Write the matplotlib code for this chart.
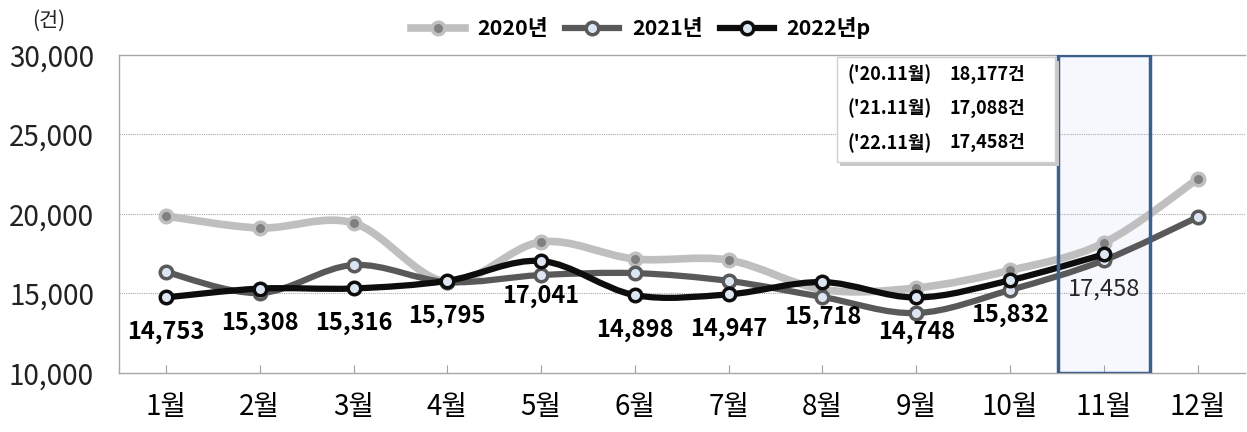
import matplotlib
matplotlib.use("Agg")
import matplotlib.pyplot as plt
from matplotlib.path import Path
from matplotlib.patches import PathPatch, Rectangle
from matplotlib.lines import Line2D
import numpy as np

plt.rcParams['font.family'] = ['Noto Sans CJK KR', 'DejaVu Sans']

months = ["1월", "2월", "3월", "4월", "5월", "6월", "7월", "8월", "9월", "10월", "11월", "12월"]
y2020 = [19870, 19120, 19430, 15720, 18240, 17170, 17100, 15250, 15350, 16450, 18177, 22200]
y2021 = [16350, 15030, 16790, 15720, 16160, 16280, 15790, 14780, 13770, 15220, 17088, 19800]
y2022 = [14753, 15308, 15316, 15795, 17041, 14898, 14947, 15718, 14748, 15832, 17458]
box_lines = [("('20.11월)", "18,177건"), ("('21.11월)", "17,088건"), ("('22.11월)", "17,458건")]


def smooth(xs, ys):
    P = np.column_stack([xs, ys]).astype(float)
    n = len(P)
    verts = [P[0]]
    codes = [Path.MOVETO]
    for i in range(n - 1):
        a = P[i - 1] if i > 0 else P[i]
        d = P[i + 2] if i + 2 < n else P[i + 1]
        c1 = P[i] + (P[i + 1] - a) / 6
        c2 = P[i + 1] - (d - P[i]) / 6
        verts += [c1, c2, P[i + 1]]
        codes += [Path.CURVE4] * 3
    return Path(verts, codes)


fig = plt.figure(figsize=(12.47, 4.32), dpi=100)
ax = fig.add_axes([0.0955, 0.1366, 0.9025, 0.7361])

series = [
    (y2020, "2020년", "#bfbfbf", "#808080", 5.5, 2),
    (y2021, "2021년", "#595959", "#dce6f2", 4.5, 3),
    (y2022, "2022년p", "#0d0d0d", "#dce6f2", 4.5, 4),
]
handles = []
for vals, name, col, face, lw, z in series:
    xs = np.arange(len(vals))
    ax.add_patch(PathPatch(smooth(xs, vals), fill=False, edgecolor=col, lw=lw,
                           capstyle='round', joinstyle='round', zorder=z))
    ax.plot(xs, vals, linestyle='none', marker='o', ms=9, mfc=face, mec=col,
            mew=2.5, zorder=z + 0.1)
    handles.append(Line2D([0], [0], color=col, lw=lw, marker='o', ms=9,
                          mfc=face, mec=col, mew=2.5))

# data labels for 2022
for i, v in enumerate(y2022):
    hl = i == 10
    ax.annotate(f"{v:,}", (i, v), xytext=(0, -25), textcoords='offset points',
                ha='center', va='center', fontsize=17,
                fontweight='normal' if hl else 'bold',
                color='#262626' if hl else 'black', zorder=6)

# highlight box for November
ax.add_patch(Rectangle((9.51, 10000), 0.98, 20000, facecolor='#f6f8fd',
                       edgecolor='none', zorder=0.5))
ax.add_patch(Rectangle((9.51, 10000), 0.98, 20000, facecolor='none',
                       edgecolor='#3d5f8e', lw=2.5, zorder=5))

# annotation box
bx0, bx1, by0, by1 = 7.15, 9.48, 23250, 29850
ax.add_patch(Rectangle((bx0 + 0.04, by0 - 250), bx1 - bx0, by1 - by0,
                       facecolor='#c8c8c8', edgecolor='none', zorder=6))
ax.add_patch(Rectangle((bx0, by0), bx1 - bx0, by1 - by0, facecolor='white',
                       edgecolor='#d0d0d0', lw=1, zorder=7))
for k, (lab, num) in enumerate(box_lines):
    yy = 28780 - k * 2150
    ax.text(bx0 + 0.12, yy, lab, fontsize=13, fontweight='bold', va='center', zorder=8)
    ax.text(bx0 + 1.2, yy, num, fontsize=13, fontweight='bold', va='center', zorder=8)

ax.set_xlim(-0.5, 11.5)
ax.set_ylim(10000, 30000)
ax.set_yticks([10000, 15000, 20000, 25000, 30000])
ax.set_yticklabels([f"{t:,}" for t in ax.get_yticks()])
ax.set_xticks(range(12))
ax.set_xticklabels(months)
ax.tick_params(axis='y', length=0, labelsize=20, pad=18, labelcolor='#222222')
ax.tick_params(axis='x', direction='in', length=6, color='#a0a0a0', labelsize=20,
               pad=14)
for y in [15000, 20000, 25000]:
    ax.axhline(y, color='#aaaaaa', lw=0.8, ls=(0, (1, 1)), zorder=0.6)
for s in ax.spines.values():
    s.set_color('#a6a6a6')
    s.set_linewidth(1)
ax.spines['right'].set_visible(False)

fig.text(0.039, 0.953, "(건)", fontsize=15, ha='center', va='center', color='#222222')
fig.legend(handles, ["2020년", "2021년", "2022년p"], loc='center',
           bbox_to_anchor=(0.514, 0.935), ncol=3, frameon=False,
           prop={'weight': 'bold', 'size': 15.5}, handlelength=2.5,
           columnspacing=0.8, handletextpad=0.6)

fig.savefig("out.png", dpi=100)
